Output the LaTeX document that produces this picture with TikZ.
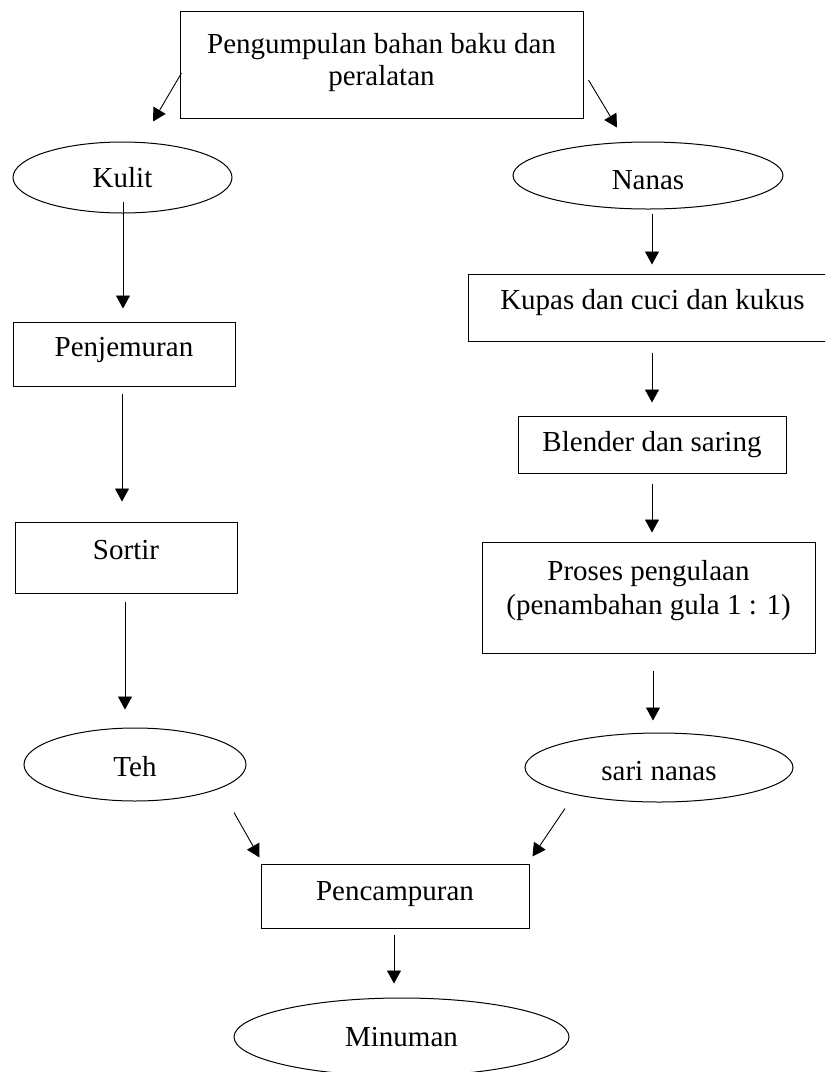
\documentclass[tikz,border=0pt]{standalone}
\usepackage{fontspec}
\setmainfont{Liberation Serif}
\usetikzlibrary{shapes.geometric,arrows.meta,calc}
\newcommand{\liftby}[2]{\raisebox{#1}[\height][\depth]{#2}}
\begin{document}
\begin{tikzpicture}[x=1pt,y=-1pt,
  every node/.style={font=\fontsize{29}{34}\selectfont},
  boxnode/.style={draw,line width=1pt,rectangle,inner sep=0pt,align=center},
  ovalnode/.style={draw,line width=1pt,ellipse,inner sep=0pt},
  arr/.style={-{Triangle[length=13pt,width=14pt]},line width=0.9pt}]
\useasboundingbox (0,0) rectangle (825,1072);

\node[boxnode,minimum width=403pt,minimum height=107pt,font=\fontsize{29}{32}\selectfont] (top) at (381.5,64.5) {\liftby{2pt}{Pengumpulan bahan baku dan}\\\liftby{2pt}{peralatan}};

\node[ovalnode,minimum width=219pt,minimum height=71pt] (kulit) at (122.5,177.5) {Kulit};
\node[ovalnode,minimum width=270pt,minimum height=67pt] (nanas) at (648,175.5) {\liftby{-5pt}{Nanas}};

\node[boxnode,minimum width=222pt,minimum height=64pt] (jemur) at (124,354) {\liftby{4pt}{Penjemuran}};
\node[boxnode,minimum width=222pt,minimum height=71pt] (sortir) at (126,557.5) {\liftby{7pt}{Sortir}};
\node[ovalnode,minimum width=222pt,minimum height=73pt] (teh) at (135,764.5) {\liftby{-2pt}{Teh}};

\node[boxnode,minimum width=369pt,minimum height=67pt] (kupas) at (652.5,307.5) {\liftby{5pt}{Kupas dan cuci dan kukus}};
\node[boxnode,minimum width=268pt,minimum height=57pt] (blender) at (652,444.5) {Blender dan saring};
\node[boxnode,minimum width=333pt,minimum height=111pt] (proses) at (648.5,597.5) {\liftby{7pt}{Proses pengulaan}\\\liftby{7pt}{(penambahan gula 1 : 1)}};
\node[ovalnode,minimum width=268pt,minimum height=69pt] (sari) at (659,767.5) {\liftby{-4pt}{sari nanas}};

\node[boxnode,minimum width=268pt,minimum height=64pt] (campur) at (395,896) {\liftby{2pt}{Pencampuran}};
\node[ovalnode,minimum width=335pt,minimum height=78pt] (minum) at (401.5,1037) {Minuman};

% diagonal arrows from top box
\draw[arr] ($(top.west)+(2,8.5)$) -- ($(kulit.north)+(30.5,-20)$);
\draw[arr] ($(top.east)+(5,15.5)$) -- ($(nanas.north)+(-31,-14)$);

% left column
\draw[arr] ($(kulit.south)+(0.5,-12)$) -- ($(jemur.north)+(-1,-13)$);
\draw[arr] ($(jemur.south)+(-2,7)$) -- ($(sortir.north)+(-4,-20)$);
\draw[arr] ($(sortir.south)+(-1,8)$) -- ($(teh.north)+(-10,-18)$);

% right column
\draw[arr] ($(nanas.south)+(4,4)$) -- ($(kupas.north)+(-0.5,-9)$);
\draw[arr] ($(kupas.south)+(-0.5,11)$) -- ($(blender.north)+(0,-13)$);
\draw[arr] ($(blender.south)+(0,10)$) -- ($(proses.north)+(3.5,-9)$);
\draw[arr] ($(proses.south)+(4.5,17)$) -- ($(sari.north)+(-6,-12)$);

% merge
\draw[arr] ($(teh.south)+(99,11)$) -- ($(campur.north west)+(-1,-6)$);
\draw[arr] ($(sari.south)+(-94,6)$) -- ($(campur.north east)+(3,-7)$);
\draw[arr] ($(campur.south)+(-1,6)$) -- ($(minum.north)+(-7.5,-14)$);
\end{tikzpicture}
\end{document}
